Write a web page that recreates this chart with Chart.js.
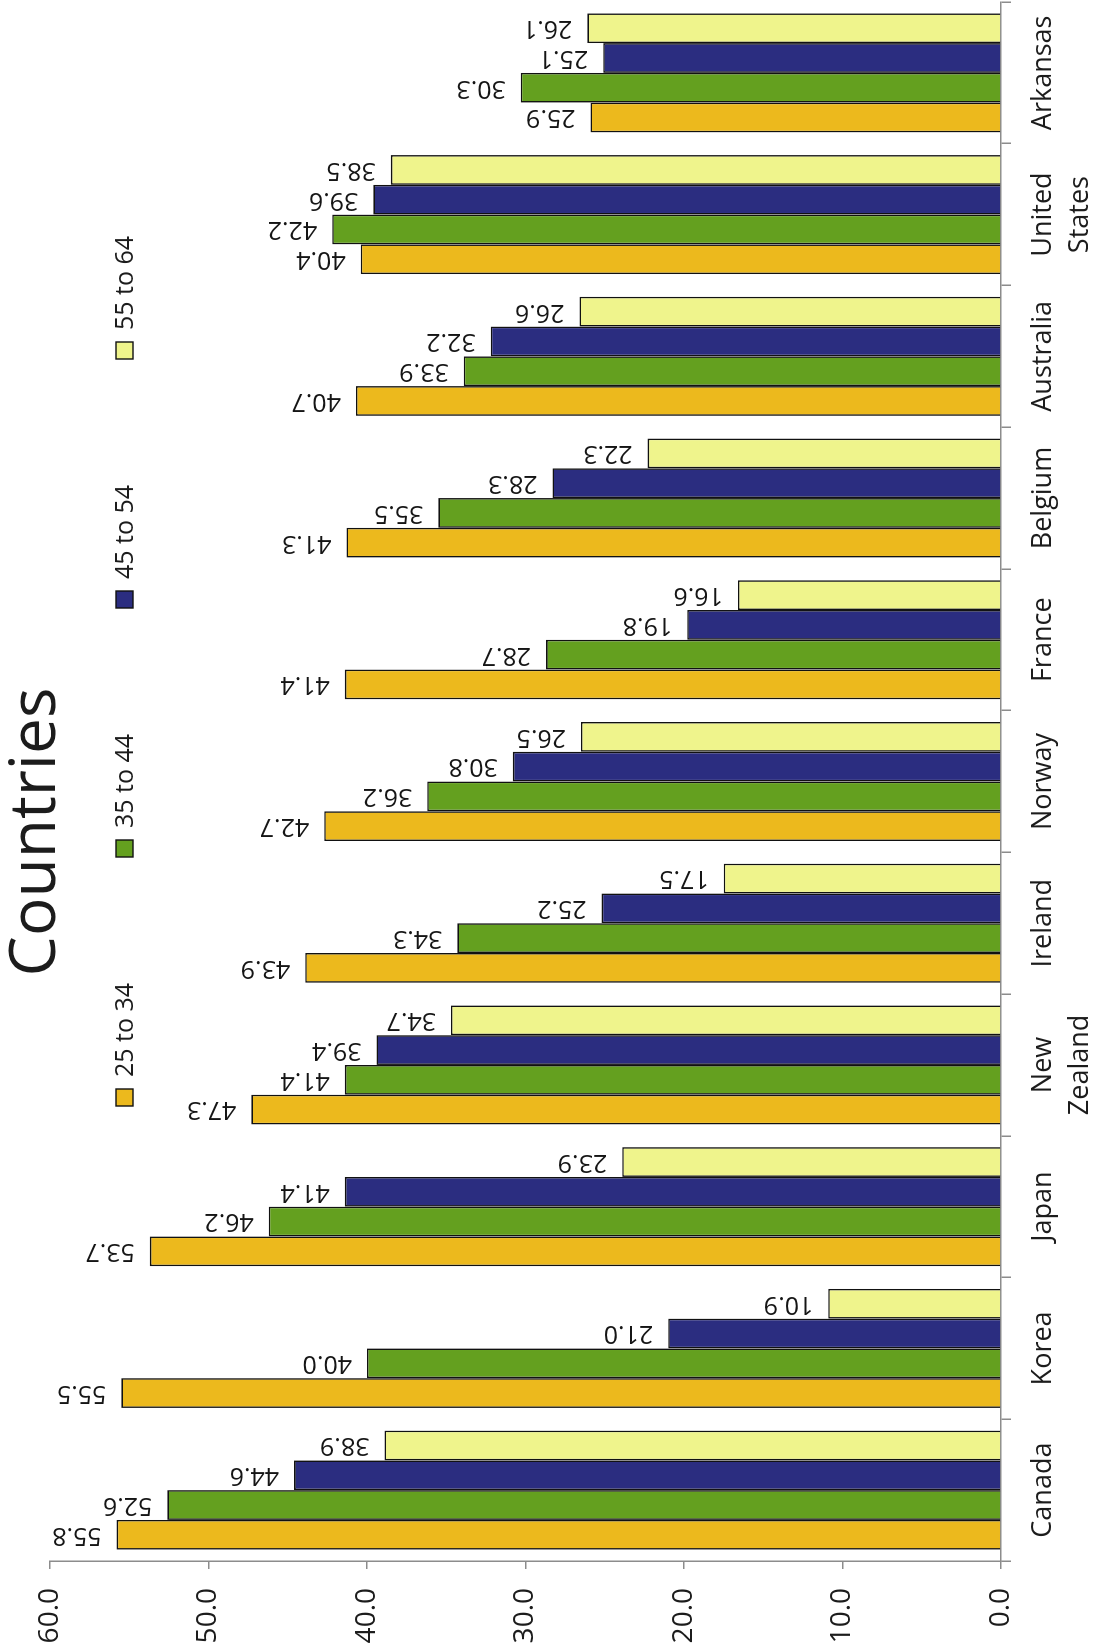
<!DOCTYPE html>
<html>
<head>
<meta charset="utf-8">
<title>Countries</title>
<script src="https://cdn.jsdelivr.net/npm/chart.js@4.4.1/dist/chart.umd.min.js"></script>
<style>
    html, body { margin: 0; padding: 0; background: #fff; overflow: hidden; }
    #wrap { position: relative; width: 1102px; height: 1652px; }
    /* the chart is drawn as a column chart and turned on its side */
    #chart-countries {
        position: absolute;
        left: 0;
        top: 0;
        width: 1652px;
        height: 1102px;
        transform-origin: 0 0;
        transform: translate(0, 1652px) rotate(-90deg);
    }
</style>
</head>
<body>
<div id="wrap">
    <canvas id="chart-countries" width="1652" height="1102"></canvas>
</div>
<script>
const countries = ["Canada", "Korea", "Japan", ["New", "Zealand"], "Ireland", "Norway", "France", "Belgium", "Australia", ["United", "States"], "Arkansas"];

const age25to34 = [55.8, 55.5, 53.7, 47.3, 43.9, 42.7, 41.4, 41.3, 40.7, 40.4, 25.9];
const age35to44 = [52.6, 40.0, 46.2, 41.4, 34.3, 36.2, 28.7, 35.5, 33.9, 42.2, 30.3];
const age45to54 = [44.6, 21.0, 41.4, 39.4, 25.2, 30.8, 19.8, 28.3, 32.2, 39.6, 25.1];
const age55to64 = [38.9, 10.9, 23.9, 34.7, 17.5, 26.5, 16.6, 22.3, 26.6, 38.5, 26.1];

const seriesNames = ["25 to 34", "35 to 44", "45 to 54", "55 to 64"];
const seriesColors = ["#ecb91d", "#64a01f", "#2b2d80", "#eff48c"];

const valueTicks = [0, 10, 20, 30, 40, 50, 60];

const FONT = '"Open Sans", "DejaVu Sans", sans-serif';
const TEXT = "#1c1c1c";
const AXIS = "#8c8c8c";

const data = {
    labels: countries,
    datasets: [age25to34, age35to44, age45to54, age55to64].map((values, i) => ({
        label: seriesNames[i],
        data: values,
        backgroundColor: seriesColors[i],
        borderColor: "#111",
        borderWidth: 1.6,
        categoryPercentage: 0.84,
        barPercentage: 1.0,
    })),
};

// value printed at the end of every bar, reading along the bar
const barLabels = {
    id: "barLabels",
    afterDatasetsDraw(chart) {
        const ctx = chart.ctx;
        ctx.save();
        ctx.font = "25px " + FONT;
        ctx.fillStyle = "#151515";
        ctx.textAlign = "left";
        ctx.textBaseline = "middle";
        chart.data.datasets.forEach((ds, i) => {
            chart.getDatasetMeta(i).data.forEach((bar, j) => {
                ctx.save();
                ctx.translate(bar.x, bar.y - 15);
                ctx.rotate(-Math.PI / 2);
                ctx.fillText(ds.data[j].toFixed(1), 0, 0);
                ctx.restore();
            });
        });
        ctx.restore();
    },
};

// title and legend sit over the top of the plot area
const header = {
    id: "header",
    afterDraw(chart) {
        const ctx = chart.ctx;
        ctx.save();
        ctx.fillStyle = TEXT;
        ctx.font = "64px " + FONT;
        ctx.textAlign = "center";
        ctx.textBaseline = "alphabetic";
        ctx.fillText("Countries", 820, 55);

        ctx.font = "25px " + FONT;
        ctx.textAlign = "left";
        ctx.textBaseline = "middle";
        chart.data.datasets.forEach((ds, i) => {
            const x = 546 + i * 249;
            ctx.fillStyle = ds.backgroundColor;
            ctx.fillRect(x, 116, 17, 17);
            ctx.strokeStyle = "#111";
            ctx.lineWidth = 1.4;
            ctx.strokeRect(x, 116, 17, 17);
            ctx.fillStyle = TEXT;
            ctx.fillText(ds.label, x + 29, 126);
        });
        ctx.restore();
    },
};

const config = {
    type: "bar",
    data: data,
    options: {
        responsive: false,
        animation: false,
        devicePixelRatio: 1,
        layout: { padding: { top: 50, right: 2, left: 0, bottom: 0 } },
        plugins: {
            legend: { display: false },
            title: { display: false },
            tooltip: { enabled: false },
        },
        scales: {
            x: {
                grid: { drawOnChartArea: false, tickLength: 10, color: AXIS, lineWidth: 1.5, offset: true },
                border: { color: AXIS, width: 1.5 },
                ticks: {
                    color: TEXT,
                    font: { family: FONT, size: 27, lineHeight: 1.37 },
                    padding: 14,
                    maxRotation: 0,
                    autoSkip: false,
                },
                afterFit(scale) { scale.height = 101; },
            },
            y: {
                min: valueTicks[0],
                max: valueTicks[valueTicks.length - 1],
                afterBuildTicks(scale) { scale.ticks = valueTicks.map(v => ({ value: v })); },
                grid: { drawOnChartArea: false, tickLength: 8, color: AXIS, lineWidth: 1.5 },
                border: { color: AXIS, width: 1.5 },
                ticks: {
                    color: TEXT,
                    font: { family: FONT, size: 28 },
                    padding: 19,
                    callback: v => Number(v).toFixed(1),
                },
                afterFit(scale) { scale.width = 91; },
            },
        },
    },
    plugins: [barLabels, header],
};

const canvas = document.getElementById("chart-countries");
const chart = new Chart(canvas, config);
</script>
</body>
</html>
